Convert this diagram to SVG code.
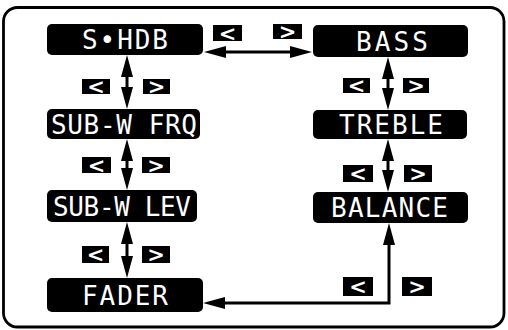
<svg xmlns="http://www.w3.org/2000/svg" width="508" height="330" viewBox="0 0 508 330">
  <style>
    .frame { fill: none; stroke: #000; stroke-width: 2.8; }
    .node rect { fill: #000; }
    .node text { fill: #fff; font-family: "DejaVu Sans Mono", "Liberation Mono", monospace; font-size: 26px; text-anchor: middle; }
    .key rect { fill: #000; }
    .key text { fill: #fff; font-family: "DejaVu Sans", "Liberation Sans", sans-serif; font-weight: bold; font-size: 21px; text-anchor: middle; }
    .conn { fill: none; stroke: #000; stroke-width: 3; marker-start: url(#ah); marker-end: url(#ah); }
  </style>
  <defs>
    <marker id="ah" markerUnits="userSpaceOnUse" markerWidth="24" markerHeight="14" refX="15" refY="6" orient="auto-start-reverse">
      <path d="M0,0 L22,6 L0,12 z" fill="#000"/>
    </marker>
  </defs>
  <rect width="508" height="330" fill="#fff"/>
  <rect class="frame" x="3.5" y="7.5" width="500.5" height="319.5" rx="14"/>

  <g id="connectors">
    <path class="conn" d="M211,52 H305"/>
    <path class="conn" d="M127,62 V102"/>
    <path class="conn" d="M127,146 V183"/>
    <path class="conn" d="M127,229 V271"/>
    <path class="conn" d="M388,64 V103"/>
    <path class="conn" d="M388,146 V185"/>
    <path class="conn" d="M389,230 V303 H210"/>
  </g>

  <g id="keys">
    <g class="key" id="k1l"><rect x="213" y="25" width="29" height="16"/><text x="227.5" y="40.5">&lt;</text></g>
    <g class="key" id="k1r"><rect x="273" y="24" width="29" height="15"/><text x="287.5" y="39">&gt;</text></g>
    <g class="key" id="k2l"><rect x="82" y="79" width="28" height="15"/><text x="96" y="94">&lt;</text></g>
    <g class="key" id="k2r"><rect x="143" y="79" width="27" height="15"/><text x="156.5" y="94">&gt;</text></g>
    <g class="key" id="k3l"><rect x="82" y="157" width="29" height="16"/><text x="96.5" y="172.5">&lt;</text></g>
    <g class="key" id="k3r"><rect x="142" y="157" width="28" height="16"/><text x="156" y="172.5">&gt;</text></g>
    <g class="key" id="k4l"><rect x="82" y="246" width="27" height="17"/><text x="95.5" y="262">&lt;</text></g>
    <g class="key" id="k4r"><rect x="142" y="246" width="28" height="17"/><text x="156" y="262">&gt;</text></g>
    <g class="key" id="k5l"><rect x="343" y="78" width="27" height="15"/><text x="356.5" y="93">&lt;</text></g>
    <g class="key" id="k5r"><rect x="403" y="78" width="26" height="15"/><text x="416" y="93">&gt;</text></g>
    <g class="key" id="k6l"><rect x="343" y="165" width="30" height="17"/><text x="358" y="181">&lt;</text></g>
    <g class="key" id="k6r"><rect x="404" y="165" width="28" height="17"/><text x="418" y="181">&gt;</text></g>
    <g class="key" id="k7l"><rect x="343" y="277" width="30" height="19"/><text x="358" y="294">&lt;</text></g>
    <g class="key" id="k7r"><rect x="402" y="277" width="30" height="19"/><text x="417" y="294">&gt;</text></g>
  </g>

  <g id="shdb" class="node"><rect x="47" y="24" width="156" height="31" rx="5"/><text x="125" y="49" textLength="86" lengthAdjust="spacing">S•HDB</text></g>
  <g id="subwfrq" class="node"><rect x="47" y="109" width="153" height="30" rx="5"/><text x="124" y="133.5" textLength="146" lengthAdjust="spacing">SUB-W FRQ</text></g>
  <g id="subwlev" class="node"><rect x="47" y="190" width="150" height="32" rx="5"/><text x="122" y="215.5" textLength="138" lengthAdjust="spacing">SUB-W LEV</text></g>
  <g id="fader" class="node"><rect x="47" y="278" width="156" height="34" rx="5"/><text x="125" y="304.5" textLength="86" lengthAdjust="spacing">FADER</text></g>
  <g id="bass" class="node"><rect x="313" y="25" width="155" height="32" rx="5"/><text x="392" y="50.5" textLength="72" lengthAdjust="spacing">BASS</text></g>
  <g id="treble" class="node"><rect x="313" y="110" width="154" height="29" rx="5"/><text x="391" y="134" textLength="104" lengthAdjust="spacing">TREBLE</text></g>
  <g id="balance" class="node"><rect x="313" y="192" width="155" height="31" rx="5"/><text x="389.5" y="217" textLength="117" lengthAdjust="spacing">BALANCE</text></g>
</svg>
